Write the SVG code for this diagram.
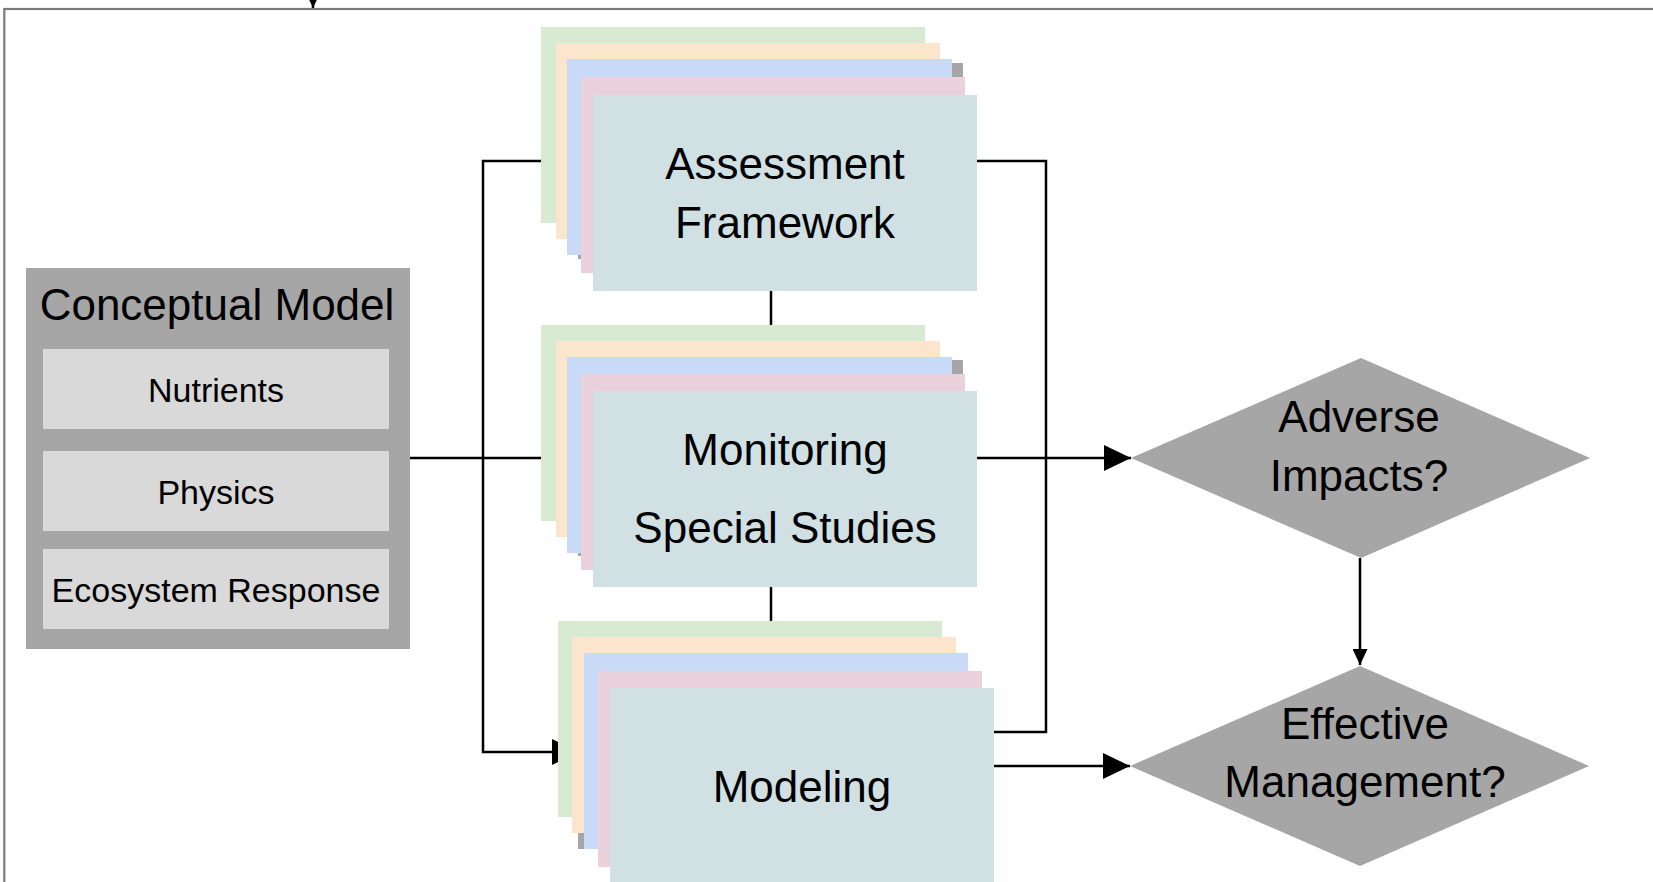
<svg xmlns="http://www.w3.org/2000/svg" width="1653" height="882" viewBox="0 0 1653 882">
<style>
  .t { font-family: "Liberation Sans", Arial, sans-serif; fill: #000; text-anchor: middle; }
  .big { font-size: 44px; }
  .small { font-size: 34px; }
  .ln { fill: none; stroke: #000; stroke-width: 2.5; }
  .g { fill: #d9ead3; } .o { fill: #fce5cd; } .b { fill: #c9daf8; }
  .p { fill: #ead1dc; } .m { fill: #d0e0e3; } .gr { fill: #a6a6a6; }
  .inner { fill: #d9d9d9; }
</style>
<defs>
  <marker id="arrowL" markerUnits="userSpaceOnUse" markerWidth="27" markerHeight="26" refX="27" refY="13" orient="auto">
    <path d="M0,0 L27,13 L0,26 z" fill="#000"/>
  </marker>
  <marker id="arrowS" markerUnits="userSpaceOnUse" markerWidth="16" markerHeight="15" refX="16" refY="7.5" orient="auto">
    <path d="M0,0 L16,7.5 L0,15 z" fill="#000"/>
  </marker>
</defs>
<rect x="0" y="0" width="1653" height="882" fill="#fff"/>
<rect id="frame" x="4.3" y="9" width="1700" height="900" fill="none" stroke="#7a7a7a" stroke-width="2.2"/>

<g id="connectors">
  <path class="ln" d="M313,-30 V8" marker-end="url(#arrowS)"/>
  <path class="ln" d="M410,458 H1131" marker-end="url(#arrowL)"/>
  <path class="ln" d="M560,161 H483 V752 H579" marker-end="url(#arrowL)"/>
  <path class="ln" d="M771,280 V630"/>
  <path class="ln" d="M940,161 H1046 V732 H970"/>
  <path class="ln" d="M970,766 H1130" marker-end="url(#arrowL)"/>
  <path class="ln" d="M1360,558 V665" marker-end="url(#arrowS)"/>
</g>

<g id="conceptual-model">
  <rect class="gr" x="26" y="268" width="384" height="381"/>
  <text class="t big" x="217" y="320">Conceptual Model</text>
  <g id="nutrients">
    <rect class="inner" x="43" y="349" width="346" height="80"/>
    <text class="t small" x="216" y="402">Nutrients</text>
  </g>
  <g id="physics">
    <rect class="inner" x="43" y="451" width="346" height="80"/>
    <text class="t small" x="216" y="504">Physics</text>
  </g>
  <g id="ecosystem-response">
    <rect class="inner" x="43" y="549" width="346" height="80"/>
    <text class="t small" x="216" y="602">Ecosystem Response</text>
  </g>
</g>

<g id="assessment-framework">
  <rect class="gr" x="578" y="63" width="385" height="196"/>
  <rect class="g" x="541" y="27" width="384" height="196"/>
  <rect class="o" x="556" y="43" width="384" height="196"/>
  <rect class="b" x="567" y="59" width="385" height="196"/>
  <rect class="p" x="581" y="77" width="384" height="196"/>
  <rect class="m" x="593" y="95" width="384" height="196"/>
  <text class="t big" x="785" y="179">Assessment</text>
  <text class="t big" x="785" y="238">Framework</text>
</g>

<g id="monitoring">
  <rect class="gr" x="578" y="360" width="385" height="196"/>
  <rect class="g" x="541" y="325" width="384" height="196"/>
  <rect class="o" x="556" y="341" width="384" height="196"/>
  <rect class="b" x="567" y="357" width="385" height="196"/>
  <rect class="p" x="581" y="374" width="384" height="196"/>
  <rect class="m" x="593" y="391" width="384" height="196"/>
  <text class="t big" x="785" y="465">Monitoring</text>
  <text class="t big" x="785" y="543">Special Studies</text>
</g>

<g id="modeling">
  <rect class="gr" x="578" y="653" width="385" height="196"/>
  <rect class="g" x="558" y="621" width="384" height="196"/>
  <rect class="o" x="572" y="637" width="384" height="196"/>
  <rect class="b" x="584" y="653" width="384" height="196"/>
  <rect class="p" x="598" y="671" width="384" height="196"/>
  <rect class="m" x="610" y="688" width="384" height="196"/>
  <text class="t big" x="802" y="802">Modeling</text>
</g>

<g id="adverse-impacts">
  <polygon class="gr" points="1131,458 1361,358 1590,458 1361,558"/>
  <text class="t big" x="1359" y="432">Adverse</text>
  <text class="t big" x="1359" y="491">Impacts?</text>
</g>

<g id="effective-management">
  <polygon class="gr" points="1130,766 1360,666 1589,766 1360,866"/>
  <text class="t big" x="1365" y="739">Effective</text>
  <text class="t big" x="1365" y="797">Management?</text>
</g>
</svg>
